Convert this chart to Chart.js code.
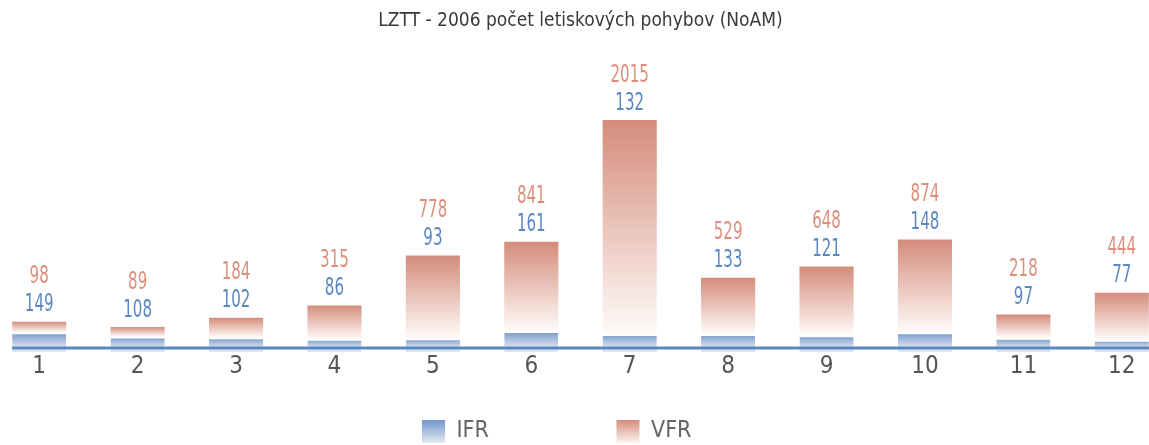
<!DOCTYPE html>
<html>
<head>
<meta charset="utf-8">
<script src="https://cdn.jsdelivr.net/npm/chart.js@4.4.1/dist/chart.umd.min.js"></script>
<style>
  html, body { margin: 0; padding: 0; background: #fff; overflow: hidden; }
  /* canvas is a bit wider than the window so the 12 categories line up with the picture */
  #wrap { position: absolute; left: -10px; top: 0; width: 1181px; height: 445px; }
</style>
</head>
<body>
<div id="wrap"><canvas id="myChart"></canvas></div>
<script>
const months = ['1', '2', '3', '4', '5', '6', '7', '8', '9', '10', '11', '12'];
const ifr = [149, 108, 102, 86, 93, 161, 132, 133, 121, 148, 97, 77];
const vfr = [98, 89, 184, 315, 778, 841, 2015, 529, 648, 874, 218, 444];
const seriesNames = ['IFR', 'VFR'];
const chartTitle = 'LZTT - 2006 počet letiskových pohybov (NoAM)';

const FONT = "'Liberation Sans Narrow', 'DejaVu Sans Condensed', sans-serif";

function gradient(ctx, top, bottom, c1, c2) {
    const g = ctx.createLinearGradient(0, top, 0, bottom);
    g.addColorStop(0, c1);
    g.addColorStop(1, c2);
    return g;
}

// each bar gets its own dark-top / light-bottom gradient
function barFill(which) {
    return function (c) {
        const chart = c.chart;
        const y = chart.scales.y;
        if (!chart.chartArea || !y || c.dataIndex === undefined) {
            return which === 0 ? '#7f9fcf' : '#d99484';
        }
        const i = c.dataIndex;
        const lo = which === 0 ? 0 : ifr[i];
        const hi = which === 0 ? ifr[i] : ifr[i] + vfr[i];
        if (which === 0) {
            return gradient(chart.ctx, y.getPixelForValue(hi), y.getPixelForValue(lo), '#7397cb', '#dfe6f2');
        }
        return gradient(chart.ctx, y.getPixelForValue(hi), y.getPixelForValue(lo), '#d48c7b', '#fffbf9');
    };
}

// condensed text, the picture uses a narrow face
function narrowText(ctx, text, x, y, squeeze) {
    ctx.save();
    ctx.translate(x, y);
    ctx.scale(squeeze, 1);
    ctx.fillText(text, 0, 0);
    ctx.restore();
}

const valueLabels = {
    id: 'valueLabels',
    afterDatasetsDraw(chart) {
        const ctx = chart.ctx;
        const y0 = chart.scales.y.getPixelForValue(0);
        const bottomBars = chart.getDatasetMeta(0).data;
        const topBars = chart.getDatasetMeta(1).data;
        ctx.save();
        // light foot under each bar, then the blue base line
        ctx.fillStyle = '#dfe5f0';
        bottomBars.forEach(b => ctx.fillRect(b.x - b.width / 2, y0, b.width, 4));
        ctx.strokeStyle = '#5b87bf';
        ctx.lineWidth = 3;
        ctx.beginPath();
        ctx.moveTo(bottomBars[0].x - bottomBars[0].width / 2, y0);
        ctx.lineTo(chart.width, y0);
        ctx.stroke();

        ctx.font = '25px ' + FONT;
        ctx.textAlign = 'center';
        ctx.textBaseline = 'middle';
        topBars.forEach((bar, i) => {
            ctx.fillStyle = '#5b87c3';
            narrowText(ctx, String(ifr[i]), bar.x, bar.y - 17, 0.67);
            ctx.fillStyle = '#de8f7c';
            narrowText(ctx, String(vfr[i]), bar.x, bar.y - 45, 0.67);
        });
        ctx.restore();
    }
};

// legend text padded so the two entries sit far apart like in the picture
const legendText = [
    'IFR' + '\u2003\u2003\u2003\u2003\u2003\u2002\u2006\u2009\u2009\u200A',
    'VFR' + '\u2003\u2003\u2009\u200A'
];

const config = {
    type: 'bar',
    data: {
        labels: months,
        datasets: [{
            label: seriesNames[0],
            data: ifr,
            backgroundColor: barFill(0),
            borderColor: '#ffffff',
            borderWidth: { top: 2, left: 0, right: 0, bottom: 0 },
            borderSkipped: 'start',
            barPercentage: 0.55,
            categoryPercentage: 1
        }, {
            label: seriesNames[1],
            data: vfr,
            backgroundColor: barFill(1),
            borderWidth: 0,
            barPercentage: 0.55,
            categoryPercentage: 1
        }]
    },
    options: {
        responsive: true,
        maintainAspectRatio: false,
        animation: false,
        layout: { padding: 0 },
        plugins: {
            title: {
                display: true,
                text: chartTitle,
                color: '#3a3a3a',
                font: { family: FONT, size: 19, weight: 'normal' },
                padding: { top: 10, bottom: 16 }
            },
            legend: {
                position: 'bottom',
                maxHeight: 25,
                labels: {
                    boxWidth: 23,
                    boxHeight: 23,
                    padding: 0,
                    color: '#666666',
                    font: { family: FONT, size: 23 },
                    generateLabels(chart) {
                        const items = Chart.defaults.plugins.legend.labels.generateLabels(chart);
                        const top = chart.height - 25;
                        items.forEach((it, k) => {
                            it.text = legendText[k];
                            it.fillStyle = k === 0
                                ? gradient(chart.ctx, top, top + 23, '#7397cb', '#e3e9f4')
                                : gradient(chart.ctx, top, top + 23, '#d48c7b', '#fdf3ef');
                            it.strokeStyle = 'rgba(0,0,0,0)';
                            it.lineWidth = 0;
                        });
                        return items;
                    }
                }
            },
            tooltip: { enabled: false }
        },
        scales: {
            x: {
                stacked: true,
                offset: true,
                grid: { display: false, drawTicks: false },
                border: { display: false },
                ticks: { color: '#555555', font: { family: FONT, size: 24 }, padding: 4 },
                afterFit(scale) { scale.height = 72; }
            },
            y: {
                stacked: true,
                display: false,
                min: 0,
                max: 2819
            }
        }
    },
    plugins: [valueLabels]
};

const myChart = new Chart(document.getElementById('myChart'), config);
</script>
</body>
</html>
